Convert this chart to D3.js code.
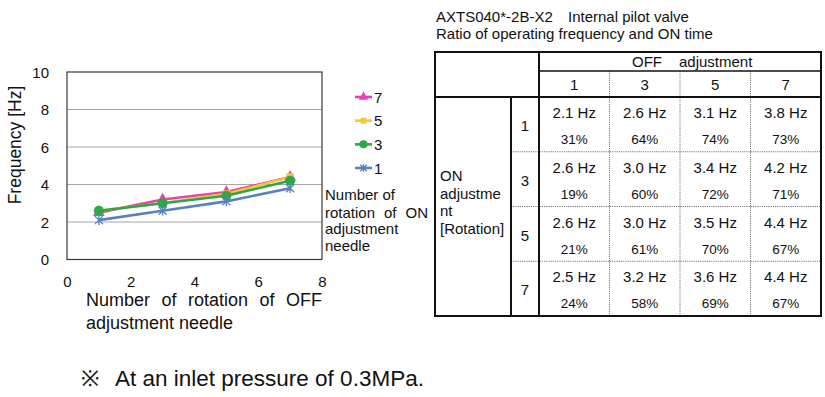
<!DOCTYPE html>
<html>
<head>
<meta charset="utf-8">
<script src="https://cdn.jsdelivr.net/npm/d3@7"></script>
<style>
  body { margin: 0; background: #fff; }
  text { font-family: "Liberation Sans", Arial, sans-serif; fill: #111; }
</style>
</head>
<body>
<div id="chart"></div>
<script>
// ---- data ----
const offLevels = [1, 3, 5, 7];          // x values / table columns
const onLevels = [1, 3, 5, 7];           // series / table rows
const freqOn1 = [2.1, 2.6, 3.1, 3.8];
const freqOn3 = [2.6, 3.0, 3.4, 4.2];
const freqOn5 = [2.6, 3.0, 3.5, 4.4];
const freqOn7 = [2.5, 3.2, 3.6, 4.4];
const ratioOn1 = [31, 64, 74, 73];
const ratioOn3 = [19, 60, 72, 71];
const ratioOn5 = [21, 61, 70, 67];
const ratioOn7 = [24, 58, 69, 67];
const xTicks = [0, 2, 4, 6, 8];
const yTicks = [0, 2, 4, 6, 8, 10];

const freqRows = [freqOn1, freqOn3, freqOn5, freqOn7];
const ratioRows = [ratioOn1, ratioOn3, ratioOn5, ratioOn7];

const W = 825, H = 397;
const svg = d3.select("#chart").append("svg")
    .attr("width", W).attr("height", H);

// ---- line chart ----
const x = d3.scaleLinear().domain([0, 8]).range([67, 322]);
const y = d3.scaleLinear().domain([0, 10]).range([259.5, 72]);

// gridlines
svg.append("g").selectAll("line")
    .data(yTicks.filter(d => d > 0 && d < 10))
    .join("line")
    .attr("x1", x(0)).attr("x2", x(8))
    .attr("y1", d => y(d)).attr("y2", d => y(d))
    .attr("stroke", "#a6a6a6").attr("stroke-width", 1);

// plot frame
svg.append("rect")
    .attr("x", x(0)).attr("y", y(10))
    .attr("width", x(8) - x(0)).attr("height", y(0) - y(10))
    .attr("fill", "none").attr("stroke", "#3a3a3a").attr("stroke-width", 1.2);

// tick labels
const yAxis = d3.axisLeft(y).tickValues(yTicks).tickSize(0).tickPadding(0);
svg.append("g").attr("transform", "translate(" + (x(0) - 18) + ",0)")
    .call(yAxis)
    .call(g => g.select(".domain").remove())
    .selectAll("text")
    .attr("font-size", 15).attr("font-family", "Liberation Sans, Arial, sans-serif")
    .attr("fill", "#111").attr("dy", "0.35em");

const xAxis = d3.axisBottom(x).tickValues(xTicks).tickSize(0).tickPadding(0);
svg.append("g").attr("transform", "translate(0," + (y(0) + 17) + ")")
    .call(xAxis)
    .call(g => g.select(".domain").remove())
    .selectAll("text")
    .attr("font-size", 15).attr("font-family", "Liberation Sans, Arial, sans-serif")
    .attr("fill", "#111");

// axis titles
svg.append("text")
    .attr("transform", "translate(21,145) rotate(-90)")
    .attr("text-anchor", "middle")
    .attr("font-size", 17.5)
    .text("Frequency [Hz]");

// justified text helper
function justify(words, x0, x1, yb, size) {
    const g = svg.append("g");
    const t = g.selectAll("text").data(words).join("text")
        .attr("y", yb).attr("font-size", size).text(d => d);
    const widths = t.nodes().map(n => n.getComputedTextLength());
    const total = d3.sum(widths);
    const gap = (x1 - x0 - total) / (words.length - 1);
    let cx = x0;
    t.attr("x", (d, i) => { const v = cx; cx += widths[i] + gap; return v; });
}

justify(["Number", "of", "rotation", "of", "OFF"], 86, 322, 306, 18);
svg.append("text").attr("x", 86).attr("y", 329).attr("font-size", 18)
    .text("adjustment needle");

// series
const series = [
    { name: "7", values: freqOn7, color: "#ec3fb0", shape: d3.symbolTriangle },
    { name: "5", values: freqOn5, color: "#f8c534", shape: d3.symbolSquare },
    { name: "3", values: freqOn3, color: "#2ba84a", shape: d3.symbolCircle },
    { name: "1", values: freqOn1, color: "#5a80c0", shape: "star" }
];

const line = d3.line()
    .x(d => x(d[0]))
    .y(d => y(d[1]));

function drawMarker(g, s, cx, cy, scale) {
    if (s.shape === "star") {
        const r = 4 * scale;
        g.append("path")
            .attr("d", `M${cx - r},${cy - r}L${cx + r},${cy + r}M${cx - r},${cy + r}L${cx + r},${cy - r}M${cx},${cy - r * 1.2}L${cx},${cy + r * 1.2}`)
            .attr("stroke", s.color).attr("stroke-width", 1.4).attr("fill", "none");
    } else {
        const size = s.shape === d3.symbolCircle ? 80 : s.shape === d3.symbolSquare ? 55 : 60;
        g.append("path")
            .attr("transform", `translate(${cx},${cy})`)
            .attr("d", d3.symbol().type(s.shape).size(size * scale * scale)())
            .attr("fill", s.color);
    }
}

series.forEach(s => {
    const pts = offLevels.map((o, i) => [o, s.values[i]]);
    const g = svg.append("g");
    g.append("path").datum(pts)
        .attr("d", line)
        .attr("fill", "none")
        .attr("stroke", s.color)
        .attr("stroke-width", 2.6);
    pts.forEach(p => drawMarker(g, s, x(p[0]), y(p[1]), 1));
});

// legend
const legY = d3.scalePoint().domain(series.map(s => s.name)).range([97, 168]);
series.forEach(s => {
    const ly = legY(s.name);
    const g = svg.append("g");
    g.append("line").attr("x1", 355).attr("x2", 372).attr("y1", ly).attr("y2", ly)
        .attr("stroke", s.color).attr("stroke-width", 2.6);
    drawMarker(g, s, 363.5, ly, 0.8);
    g.append("text").attr("x", 374).attr("y", ly + 5.5).attr("font-size", 15).text(s.name);
});

svg.append("text").attr("x", 325).attr("y", 200).attr("font-size", 15).text("Number of");
justify(["rotation", "of", "ON"], 325, 428, 217.5, 15);
svg.append("text").attr("x", 325).attr("y", 234).attr("font-size", 15).text("adjustment");
svg.append("text").attr("x", 325).attr("y", 251).attr("font-size", 15).text("needle");

// footnote
svg.append("text").attr("x", 81).attr("y", 386).attr("font-size", 22)
    .attr("font-family", "Noto Sans CJK JP").text("※");
svg.append("text").attr("x", 115).attr("y", 386).attr("font-size", 22.5)
    .text("At an inlet pressure of 0.3MPa.");

// ---- table ----
const title = svg.append("text").attr("x", 436).attr("y", 22).attr("font-size", 15);
title.append("tspan").text("AXTS040*-2B-X2");
title.append("tspan").attr("x", 568).text("Internal pilot valve");
svg.append("text").attr("x", 436).attr("y", 39).attr("font-size", 15)
    .text("Ratio of operating frequency and ON time");

const tLeft = 435, tRight = 821, tTop = 52, hMid = 71, hBot = 97, tBot = 316;
const labCol = 511, dataLeft = 539;
const colX = d3.scaleBand().domain(offLevels).range([dataLeft, tRight]);
const rowY = d3.scaleBand().domain(onLevels).range([hBot, tBot]);

const tg = svg.append("g");
// dotted inner lines
offLevels.slice(1).forEach(o => {
    tg.append("line").attr("x1", colX(o)).attr("x2", colX(o))
        .attr("y1", hMid).attr("y2", tBot)
        .attr("stroke", "#777").attr("stroke-width", 1).attr("stroke-dasharray", "1.2,1");
});
onLevels.slice(1).forEach(r => {
    tg.append("line").attr("x1", labCol).attr("x2", tRight)
        .attr("y1", rowY(r)).attr("y2", rowY(r))
        .attr("stroke", "#777").attr("stroke-width", 1).attr("stroke-dasharray", "1.2,1");
});
// solid lines
const solid = [
    [dataLeft, hMid, tRight, hMid, 1.4],
    [tLeft, hBot, tRight, hBot, 1.8],
    [labCol, hBot, labCol, tBot, 2],
    [dataLeft, tTop, dataLeft, tBot, 2]
];
solid.forEach(l => {
    tg.append("line").attr("x1", l[0]).attr("y1", l[1]).attr("x2", l[2]).attr("y2", l[3])
        .attr("stroke", "#111").attr("stroke-width", l[4]);
});
tg.append("rect").attr("x", tLeft).attr("y", tTop)
    .attr("width", tRight - tLeft).attr("height", tBot - tTop)
    .attr("fill", "none").attr("stroke", "#111").attr("stroke-width", 2);

// header
const hdr = svg.append("text").attr("y", 67).attr("font-size", 15);
hdr.append("tspan").attr("x", 632).text("OFF");
hdr.append("tspan").attr("x", 679).text("adjustment");
offLevels.forEach(o => {
    svg.append("text").attr("x", colX(o) + colX.bandwidth() / 2).attr("y", 90)
        .attr("text-anchor", "middle").attr("font-size", 15).text(o);
});

// row label
["ON", "adjustme", "nt", "[Rotation]"].forEach((s, i) => {
    svg.append("text").attr("x", 440).attr("y", 181 + i * 17.7).attr("font-size", 15).text(s);
});

// rows
onLevels.forEach((r, ri) => {
    const top = rowY(r);
    svg.append("text").attr("x", (labCol + dataLeft) / 2).attr("y", top + 34)
        .attr("text-anchor", "middle").attr("font-size", 15).text(r);
    offLevels.forEach((o, ci) => {
        const cx = colX(o) + colX.bandwidth() / 2;
        svg.append("text").attr("x", cx).attr("y", top + 21)
            .attr("text-anchor", "middle").attr("font-size", 15)
            .text(freqRows[ri][ci].toFixed(1) + " Hz");
        svg.append("text").attr("x", cx).attr("y", top + 47)
            .attr("text-anchor", "middle").attr("font-size", 13.5)
            .text(ratioRows[ri][ci] + "%");
    });
});
</script>
</body>
</html>
